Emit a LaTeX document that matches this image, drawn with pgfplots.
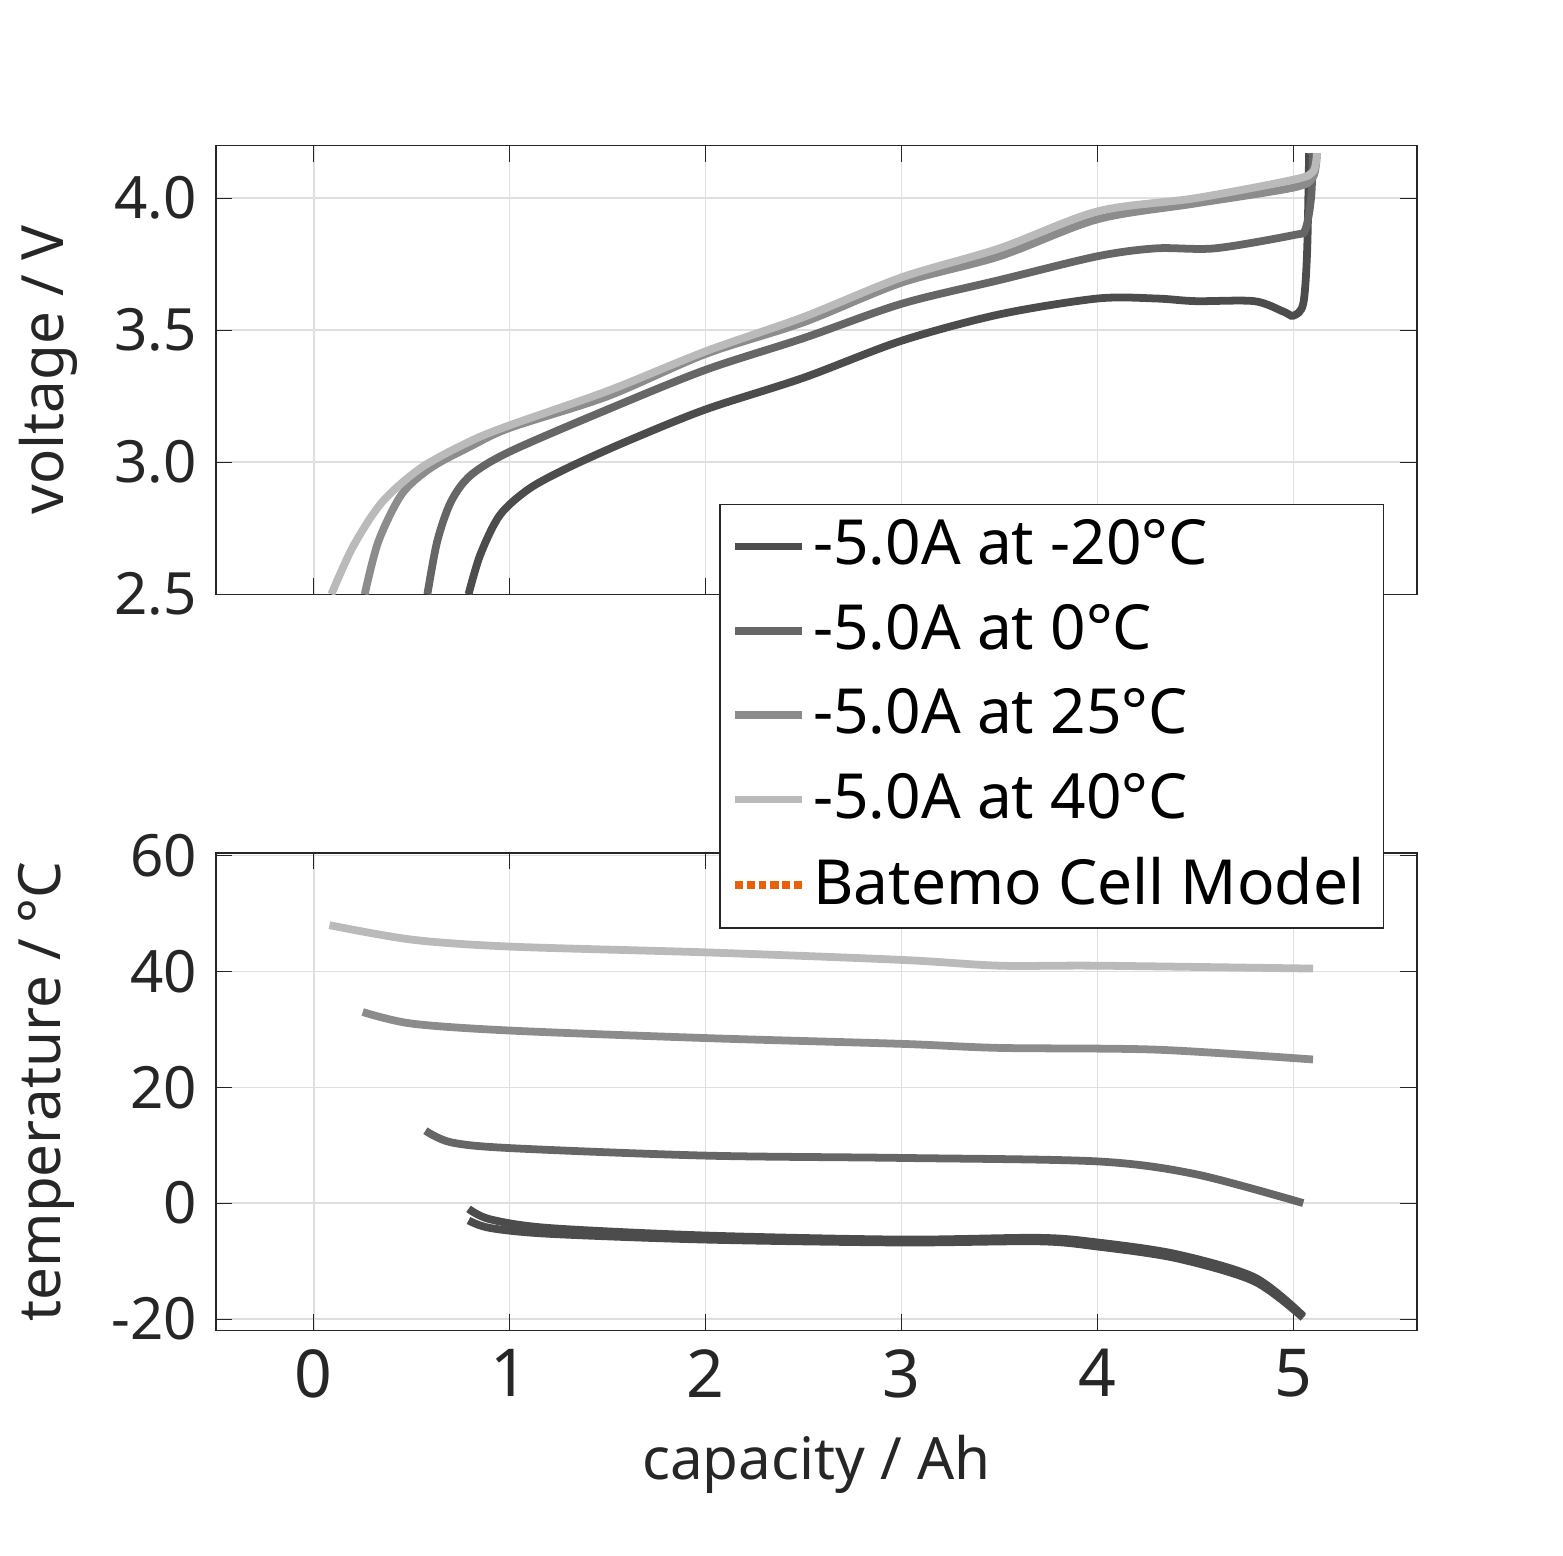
\documentclass[border=0pt]{standalone}
\usepackage{pgfplots}
\pgfplotsset{compat=1.18}
\usepackage{fontspec}
\setmainfont{Noto Sans}
\definecolor{axc}{HTML}{262626}
\begin{document}
\fontsize{14}{17}\selectfont
\begin{tikzpicture}
\path (-53.5pt,-57.9pt) rectangle (346.6pt,342.3pt);
\pgfplotsset{every axis/.append style={scale only axis, width=309pt,
 xmin=-0.5, xmax=5.63, grid=major, major grid style={gray!25},
 axis line style={axc}, tick style={axc}, tick align=inside, ticklabel style={text=axc, font=\fontsize{15}{18}\selectfont},
 label style={text=axc, font=\fontsize{15}{18}\selectfont},
 /pgf/number format/assume math mode=true, xtick={0,1,2,3,4,5},
 every axis plot/.append style={line width=2pt, no marks, smooth}}}
\begin{axis}[at={(0pt,189.4pt)}, anchor=south west, height=115.5pt, ymin=2.5, ymax=4.2,
 ytick={2.5,3,3.5,4}, yticklabel style={/pgf/number format/fixed,/pgf/number format/fixed zerofill,/pgf/number format/precision=1},
 xticklabels={}, ylabel={voltage / V}]
\addplot[color=black!70] coordinates {(0.79,2.5)(0.85,2.65)(0.95,2.8)(1.1,2.9)(1.3,2.98)(1.6,3.08)(2,3.2)(2.5,3.32)(3,3.46)(3.5,3.56)(4,3.62)(4.3,3.62)(4.5,3.61)(4.8,3.61)(4.95,3.57)(5.0,3.555)(5.05,3.6)(5.07,3.8)(5.08,4.17)};
\addplot[color=black!60] coordinates {(0.58,2.5)(0.63,2.7)(0.7,2.85)(0.8,2.95)(1.0,3.04)(1.5,3.2)(2,3.35)(2.5,3.47)(3,3.6)(3.5,3.69)(4,3.78)(4.3,3.81)(4.6,3.81)(5.0,3.86)(5.06,3.88)(5.09,4.0)(5.1,4.17)};
\addplot[color=black!45] coordinates {(0.26,2.5)(0.33,2.7)(0.45,2.88)(0.6,2.98)(0.8,3.06)(1,3.13)(1.5,3.25)(2,3.41)(2.5,3.53)(3,3.68)(3.5,3.78)(4,3.92)(4.5,3.98)(5,4.04)(5.1,4.08)(5.12,4.17)};
\addplot[color=black!27] coordinates {(0.09,2.5)(0.2,2.68)(0.35,2.85)(0.55,2.98)(0.8,3.08)(1,3.14)(1.5,3.27)(2,3.42)(2.5,3.55)(3,3.7)(3.5,3.81)(4,3.95)(4.5,4.0)(5,4.07)(5.1,4.1)(5.12,4.17)};
\end{axis}
\begin{axis}[at={(0pt,0pt)}, anchor=south west, height=122.9pt, ymin=-22, ymax=60.5,
 ytick={-20,0,20,40,60}, xlabel={capacity / Ah}, ylabel={temperature / °C},
 xticklabel style={font=\fontsize{17}{20}\selectfont},
 legend style={at={(0.419,1.731)}, anchor=north west, fill=white, draw=axc,
  font=\fontsize{16}{19}\selectfont, row sep=4pt},
 legend cell align=left]
\addplot[color=black!70] coordinates {(0.79,-1)(0.9,-2.8)(1.2,-4.3)(2,-5.6)(3,-6.3)(3.7,-6)(4,-6.8)(4.4,-8.8)(4.8,-12.8)(5.05,-19.5)};
\addlegendentry{-5.0A at -20°C}
\addplot[color=black!60] coordinates {(0.57,12.5)(0.7,10.5)(1,9.5)(2,8.2)(3,7.8)(4,7.2)(4.5,5)(5.05,0)};
\addlegendentry{-5.0A at 0°C}
\addplot[color=black!45] coordinates {(0.25,33)(0.5,31)(1,29.8)(2,28.5)(3,27.5)(3.5,26.8)(4.3,26.5)(5.1,24.8)};
\addlegendentry{-5.0A at 25°C}
\addplot[color=black!27] coordinates {(0.08,48)(0.5,45.5)(1,44.3)(2,43.3)(3,42)(3.5,41)(4,41)(5.1,40.5)};
\addlegendentry{-5.0A at 40°C}
\addlegendimage{color={rgb,255:red,232;green,96;blue,10}, densely dotted, line width=2pt}
\addlegendentry{Batemo Cell Model}
\addplot[color=black!70, forget plot] coordinates {(0.79,-3)(0.9,-4.3)(1.2,-5.3)(2,-6.3)(3,-6.8)(3.7,-6.6)(4,-7.5)(4.4,-9.5)(4.8,-13.5)(5.05,-19.8)};
\end{axis}
\end{tikzpicture}
\end{document}
